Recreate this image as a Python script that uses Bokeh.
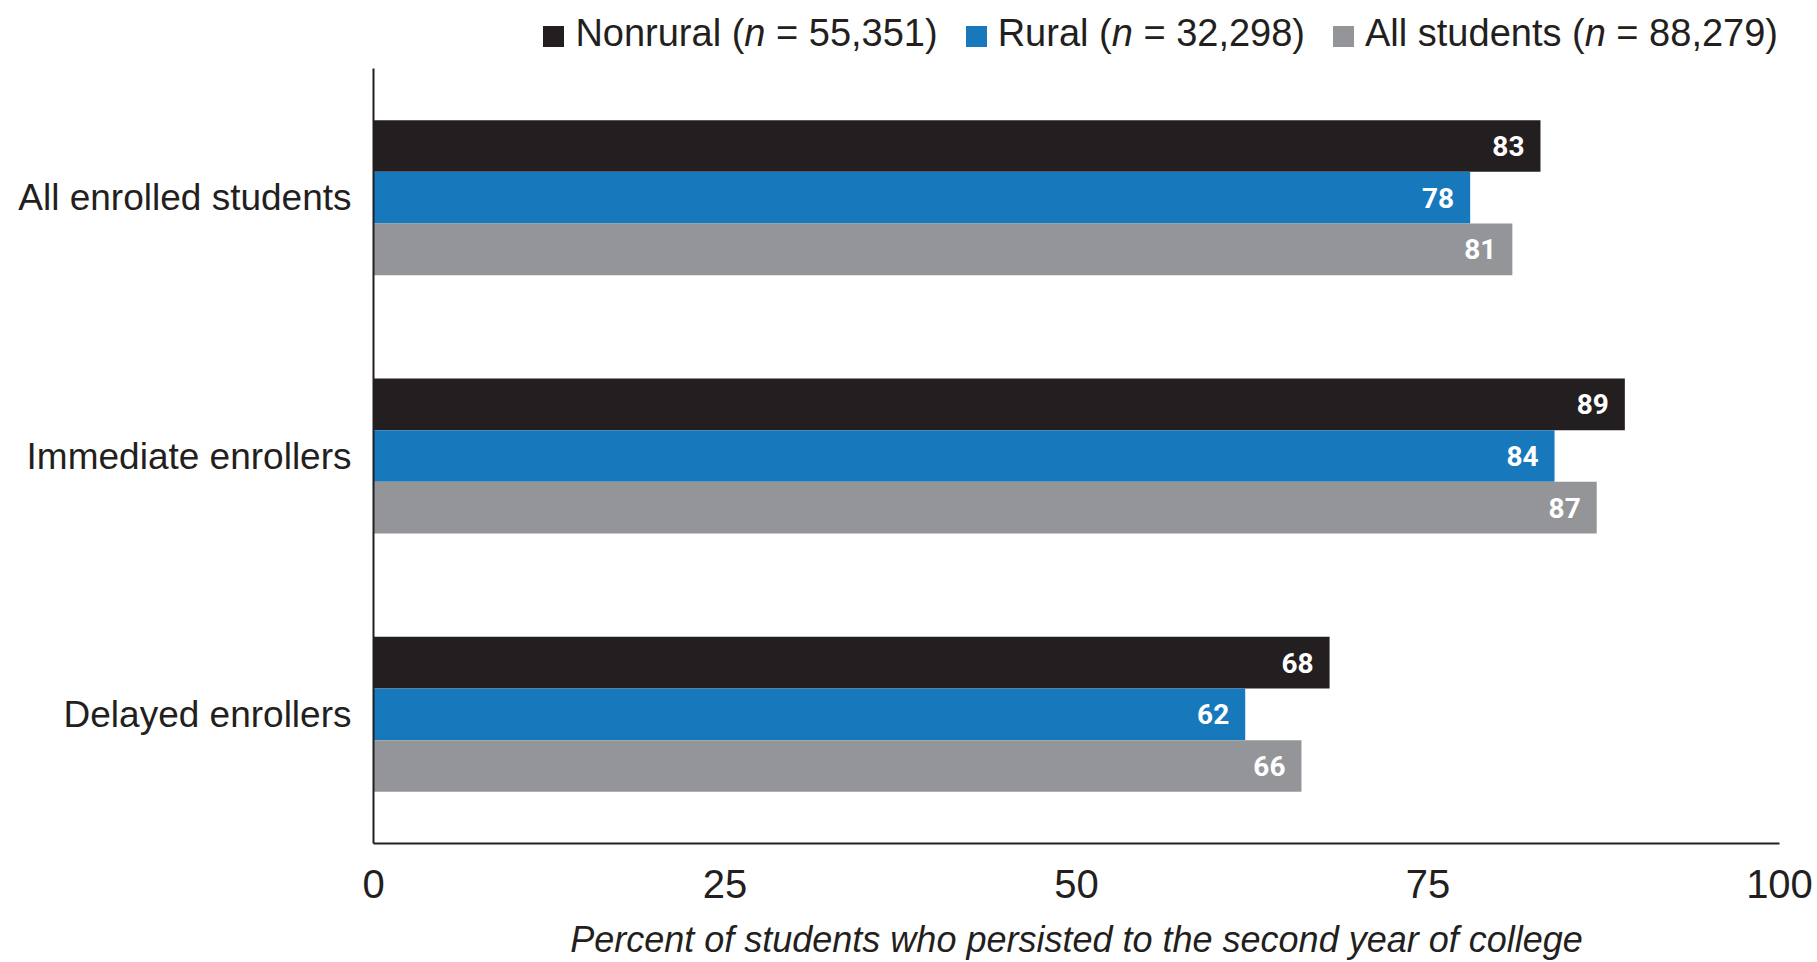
from bokeh.plotting import figure
from bokeh.models import FactorRange, Range1d, Div, ColumnDataSource
from bokeh.transform import dodge
from bokeh.layouts import column
from bokeh.embed import file_html
from bokeh.resources import INLINE
from bokeh.core.properties import value

# Persistence to the second year of college, by enrollment timing
groups = ["All enrolled students", "Immediate enrollers", "Delayed enrollers"]
nonrural = [83, 89, 68]
rural = [78, 84, 62]
all_students = [81, 87, 66]

series_names = ["Nonrural", "Rural", "All students"]
series_n = ["55,351", "32,298", "88,279"]
series_colors = ["#231f20", "#1779bc", "#939598"]
x_ticks = [0, 25, 50, 75, 100]

FONT = "Liberation Sans"
INK = "#231f20"

source = ColumnDataSource(data=dict(
    group=groups,
    nonrural=nonrural,
    rural=rural,
    all_students=all_students,
    nonrural_lbl=[str(v) for v in nonrural],
    rural_lbl=[str(v) for v in rural],
    all_students_lbl=[str(v) for v in all_students],
))

p = figure(
    width=1817, height=894,
    y_range=FactorRange(factors=groups[::-1]),
    x_range=Range1d(0, 100),
    output_backend="svg", toolbar_location=None,
    min_border_left=373, min_border_right=38,
    min_border_top=0, min_border_bottom=119,
)

# three bars per group, top to bottom: nonrural, rural, all students
columns = ["nonrural", "rural", "all_students"]
offsets = [0.2, 0.0, -0.2]
for col, off, color in zip(columns, offsets, series_colors):
    ypos = dodge("group", off, range=p.y_range)
    p.hbar(y=ypos, left=0, right=col, height=0.2, source=source,
           fill_color=color, line_color=None)
    p.text(x=col, y=ypos, text=col + "_lbl", source=source,
           x_offset=-16, text_align="right", text_baseline="middle",
           text_color="white", text_font=value("Roboto"),
           text_font_style="bold", text_font_size="28px")

p.xgrid.grid_line_color = None
p.ygrid.grid_line_color = None
p.outline_line_color = None
p.background_fill_color = "white"
p.border_fill_color = "white"

for ax in (p.xaxis, p.yaxis):
    ax.axis_line_color = INK
    ax.axis_line_width = 2
    ax.major_tick_line_color = None
    ax.minor_tick_line_color = None
    ax.major_label_text_color = INK
    ax.major_label_text_font = FONT

p.xaxis.ticker = x_ticks
p.xaxis.major_label_text_font_size = "40px"
p.xaxis.major_label_standoff = 20
p.xaxis.axis_label = "Percent of students who persisted to the second year of college"
p.xaxis.axis_label_text_font = FONT
p.xaxis.axis_label_text_font_style = "italic"
p.xaxis.axis_label_text_font_size = "36px"
p.xaxis.axis_label_text_color = INK
p.xaxis.axis_label_standoff = 18

p.yaxis.major_label_text_font_size = "37px"
p.yaxis.major_label_standoff = 16

# legend row above the plot
items = []
for name, n, color in zip(series_names, series_n, series_colors):
    items.append(
        f'<span style="display:inline-block;width:21px;height:21px;'
        f'background:{color};margin:0 11px 0 28px;vertical-align:-1px"></span>'
        f'{name} (<i>n</i> = {n})'
    )
legend_html = (
    f'<div style="width:1773px;text-align:right;font-family:\'{FONT}\';'
    f'font-size:38px;line-height:56px;color:{INK};white-space:nowrap">'
    + "".join(items) + "</div>"
)
legend = Div(text=legend_html, width=1817, height=58)

layout = column(legend, p, spacing=0)

with open("out.html", "w") as f:
    f.write(file_html(layout, INLINE))
